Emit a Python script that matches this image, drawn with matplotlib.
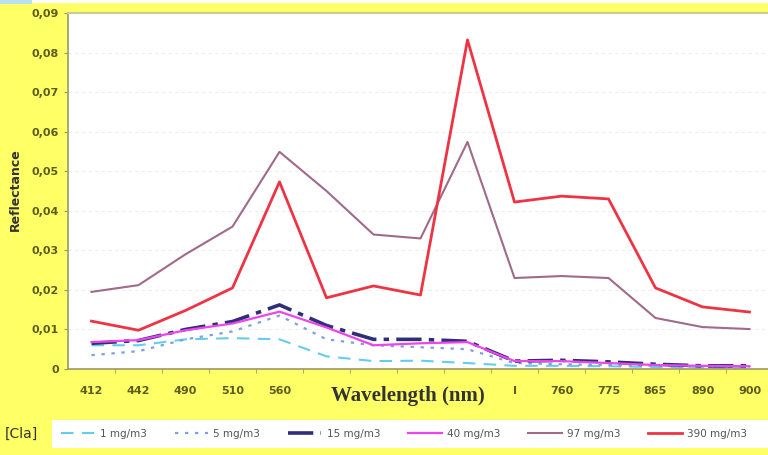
import matplotlib.pyplot as plt
from matplotlib.patches import Rectangle
from matplotlib.ticker import FuncFormatter, MultipleLocator

# wavelengths (some tick labels are hidden behind the axis title)
wavelengths = ['412', '442', '490', '510', '560', '', '', '', '', 'I',
               '760', '775', '865', '890', '900']

cla_labels = ['1 mg/m3', '5 mg/m3', '15 mg/m3', '40 mg/m3', '97 mg/m3', '390 mg/m3']

r_1 = [0.0060, 0.0060, 0.0075, 0.0078, 0.0075, 0.0032, 0.0020, 0.0021, 0.0015,
       0.0008, 0.0008, 0.0007, 0.0005, 0.0004, 0.0003]
r_5 = [0.0035, 0.0045, 0.0075, 0.0095, 0.0135, 0.0075, 0.0060, 0.0055, 0.0050,
       0.0015, 0.0012, 0.0010, 0.0008, 0.0005, 0.0005]
r_15 = [0.0065, 0.0072, 0.0100, 0.0120, 0.0162, 0.0110, 0.0075, 0.0075, 0.0070,
        0.0020, 0.0022, 0.0018, 0.0012, 0.0008, 0.0008]
r_40 = [0.0068, 0.0073, 0.0098, 0.0115, 0.0145, 0.0105, 0.0060, 0.0065, 0.0068,
        0.0020, 0.0020, 0.0015, 0.0010, 0.0008, 0.0007]
r_97 = [0.0195, 0.0212, 0.0290, 0.0360, 0.0549, 0.0450, 0.0340, 0.0330, 0.0574,
        0.0230, 0.0235, 0.0230, 0.0129, 0.0106, 0.0101]
r_390 = [0.0121, 0.0098, 0.0148, 0.0205, 0.0473, 0.0180, 0.0210, 0.0187, 0.0832,
         0.0422, 0.0437, 0.0430, 0.0205, 0.0157, 0.0144]

series = [r_1, r_5, r_15, r_40, r_97, r_390]
colors = ['#66ccee', '#7f9fdd', '#2e2e7a', '#ee44ee', '#a06a8a', '#ee3344']
styles = [(0, (6, 4)), (0, (1.5, 3)), (0, (7, 2, 1.5, 2)), '-', '-', '-']
widths = [1.5, 1.6, 2.6, 1.6, 1.5, 2.0]

yellow = '#ffff66'
olive = '#5c5c1e'

fig = plt.figure(figsize=(7.68, 4.55), dpi=100, facecolor=yellow)
fig.patches.append(Rectangle((0, 1 - 3 / 455), 1, 3 / 455, transform=fig.transFigure,
                             facecolor='white', edgecolor='none', zorder=0))
fig.patches.append(Rectangle((0, 1 - 4 / 455), 32 / 768, 4 / 455, transform=fig.transFigure,
                             facecolor='#b8e0f0', edgecolor='none', zorder=1))
# white band behind the legend
fig.patches.append(Rectangle((52 / 768, 1 - 448 / 455), 716 / 768, 28 / 455,
                             transform=fig.transFigure, facecolor='white',
                             edgecolor='none', zorder=0))

ax = fig.add_axes([68 / 768, 1 - 369 / 455, 705 / 768, 356 / 455])
ax.set_facecolor('white')

x = list(range(len(wavelengths)))
for vals, lab, c, ls, lw in zip(series, cla_labels, colors, styles, widths):
    ax.plot(x, vals, color=c, linestyle=ls, linewidth=lw, label=lab)

ax.set_xlim(-0.5, len(wavelengths) - 0.5)
ax.set_ylim(0, 0.09)
ax.yaxis.set_major_locator(MultipleLocator(0.01))
ax.yaxis.set_major_formatter(FuncFormatter(
    lambda v, p: '0' if abs(v) < 1e-9 else ('%.2f' % v).replace('.', ',')))
ax.set_xticks(x)
ax.set_xticklabels(wavelengths)
ax.set_xticks([i + 0.5 for i in x[:-1]], minor=True)
ax.tick_params(axis='x', which='major', length=0, pad=12, labelsize=8, labelcolor=olive)
ax.tick_params(axis='x', which='minor', length=3, color='#999966')
ax.tick_params(axis='y', length=3, color='#999966', labelsize=8, labelcolor=olive)
for lbl in ax.get_xticklabels() + ax.get_yticklabels():
    lbl.set_fontweight('bold')

ax.grid(axis='y', linestyle=(0, (3, 3)), color='#eeeeee', linewidth=0.8)
ax.set_axisbelow(True)
for s in ['left', 'bottom']:
    ax.spines[s].set_color('#999966')
    ax.spines[s].set_linewidth(1.2)
ax.spines['top'].set_color('#cccc99')
ax.spines['top'].set_linewidth(1.5)
ax.spines['right'].set_visible(False)

fig.text(15 / 768, 1 - 190 / 455, 'Reflectance', rotation=90, ha='center', va='center',
         fontsize=9, fontweight='bold', color='#333333')
fig.text(408 / 768, 1 - 396 / 455, 'Wavelength (nm)', ha='center', va='center',
         fontsize=15, fontweight='bold', family='Liberation Serif', color='#333333')

leg = fig.legend(loc='center', ncol=6, bbox_to_anchor=(404 / 768, 1 - 434 / 455),
                 frameon=False, fontsize=7.5, handlelength=3.2, columnspacing=2.7,
                 handletextpad=0.5)
for t in leg.get_texts():
    t.set_color('#555555')

fig.text(5 / 768, 1 - 434 / 455, '[Cla]', ha='left', va='center', fontsize=10,
         color='#333333')

fig.savefig('out.png', dpi=100, facecolor=yellow)
